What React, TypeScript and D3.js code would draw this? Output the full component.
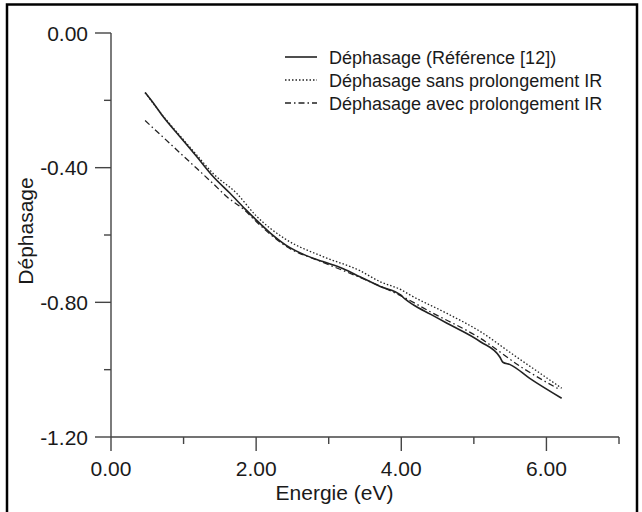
import React from "react";
import * as d3 from "d3";

const energyRef = [0.47, 0.6, 0.72, 0.95, 1.18, 1.41, 1.64, 1.85, 2.0, 2.2, 2.41, 2.7, 2.92, 3.2, 3.43, 3.71, 3.99, 4.05, 4.17, 4.4, 4.63, 5.09, 5.36, 5.4, 5.5, 5.77, 6.21];
const phaseRef = [-0.177, -0.213, -0.249, -0.308, -0.367, -0.427, -0.476, -0.523, -0.555, -0.595, -0.63, -0.662, -0.679, -0.7, -0.724, -0.753, -0.778, -0.79, -0.808, -0.835, -0.862, -0.917, -0.963, -0.978, -0.985, -1.026, -1.085];

const energySans = [0.47, 0.72, 0.95, 1.18, 1.41, 1.73, 2.0, 2.41, 2.92, 3.43, 3.71, 4.0, 4.12, 4.63, 5.09, 5.54, 6.21];
const phaseSans = [-0.177, -0.247, -0.305, -0.362, -0.418, -0.476, -0.543, -0.613, -0.664, -0.706, -0.739, -0.763, -0.778, -0.833, -0.887, -0.955, -1.055];

const energyAvec = [0.47, 0.72, 0.95, 1.18, 1.4, 1.6, 1.85, 2.0, 2.41, 2.92, 3.43, 3.99, 4.4, 5.09, 5.68, 6.19];
const phaseAvec = [-0.26, -0.31, -0.356, -0.402, -0.446, -0.487, -0.528, -0.56, -0.633, -0.681, -0.726, -0.78, -0.828, -0.907, -0.996, -1.06];

const xMajorTicks = [0, 2, 4, 6];
const xMinorTicks = [1, 3, 5, 7];
const yMajorTicks = [0, -0.4, -0.8, -1.2];
const yMinorTicks = [-0.2, -0.6, -1.0];

const legendLabels = [
  "Déphasage (Référence [12])",
  "Déphasage sans prolongement IR",
  "Déphasage avec prolongement IR",
];
const legendDash = ["none", "1.5,2", "6,3,1.5,3"];

const xLabel = "Energie (eV)";
const yLabel = "Déphasage";

export default function App() {
  const x = d3.scaleLinear().domain([0, 7]).range([111, 619]);
  const y = d3.scaleLinear().domain([0, -1.2]).range([33, 437]);
  const line = d3
    .line<[number, number]>()
    .x((d) => x(d[0]))
    .y((d) => y(d[1]))
    .curve(d3.curveMonotoneX);

  const series = [
    { e: energyRef, p: phaseRef, dash: legendDash[0], w: 1.6 },
    { e: energySans, p: phaseSans, dash: legendDash[1], w: 1.3 },
    { e: energyAvec, p: phaseAvec, dash: legendDash[2], w: 1.3 },
  ];

  const font = "'Liberation Sans', Arial, sans-serif";
  const axisColor = "#444";
  const textColor = "#1a1a1a";

  return (
    <svg
      width={642}
      height={512}
      style={{ position: "absolute", left: 0, top: 0, background: "#fff" }}
      fontFamily={font}
    >
      <rect x={0} y={0} width={642} height={512} fill="#fff" />
      {/* frame */}
      <path d="M7,520 L7,4.5 L637,4.5 L637,520" fill="none" stroke="#000" strokeWidth={2.5} />

      {/* axes */}
      <line x1={x(0)} x2={x(7)} y1={y(-1.2)} y2={y(-1.2)} stroke={axisColor} strokeWidth={1.4} />
      <line x1={x(0)} x2={x(0)} y1={y(0)} y2={y(-1.2)} stroke={axisColor} strokeWidth={1.4} />

      {xMajorTicks.map((t) => (
        <g key={"xM" + t}>
          <line x1={x(t)} x2={x(t)} y1={y(-1.2)} y2={y(-1.2) + 14} stroke={axisColor} strokeWidth={1.4} />
          <text x={x(t)} y={476} textAnchor="middle" fontSize={21} fill={textColor}>
            {t.toFixed(2)}
          </text>
        </g>
      ))}
      {xMinorTicks.map((t) => (
        <line key={"xm" + t} x1={x(t)} x2={x(t)} y1={y(-1.2)} y2={y(-1.2) + 7} stroke={axisColor} strokeWidth={1.4} />
      ))}
      {yMajorTicks.map((t) => (
        <g key={"yM" + t}>
          <line x1={x(0) - 16} x2={x(0)} y1={y(t)} y2={y(t)} stroke={axisColor} strokeWidth={1.4} />
          <text x={88} y={y(t) + 7.5} textAnchor="end" fontSize={21} fill={textColor}>
            {t.toFixed(2)}
          </text>
        </g>
      ))}
      {yMinorTicks.map((t) => (
        <line key={"ym" + t} x1={x(0) - 7} x2={x(0)} y1={y(t)} y2={y(t)} stroke={axisColor} strokeWidth={1.4} />
      ))}

      <text x={334.5} y={500} textAnchor="middle" fontSize={21} fill={textColor}>
        {xLabel}
      </text>
      <text
        transform={`translate(33,231) rotate(-90)`}
        textAnchor="middle"
        fontSize={21}
        fill={textColor}
      >
        {yLabel}
      </text>

      {/* curves */}
      {series.map((s, i) => (
        <path
          key={"s" + i}
          d={line(s.e.map((e, j) => [e, s.p[j]] as [number, number])) || ""}
          fill="none"
          stroke="#222"
          strokeWidth={s.w}
          strokeDasharray={s.dash}
        />
      ))}

      {/* legend */}
      {legendLabels.map((lab, i) => {
        const cy = 57 + i * 23;
        return (
          <g key={"lg" + i}>
            <line x1={285} x2={317} y1={cy} y2={cy} stroke="#222" strokeWidth={series[i].w} strokeDasharray={legendDash[i]} />
            <text x={329} y={cy + 6.5} fontSize={18} fill={textColor}>
              {lab}
            </text>
          </g>
        );
      })}
    </svg>
  );
}
